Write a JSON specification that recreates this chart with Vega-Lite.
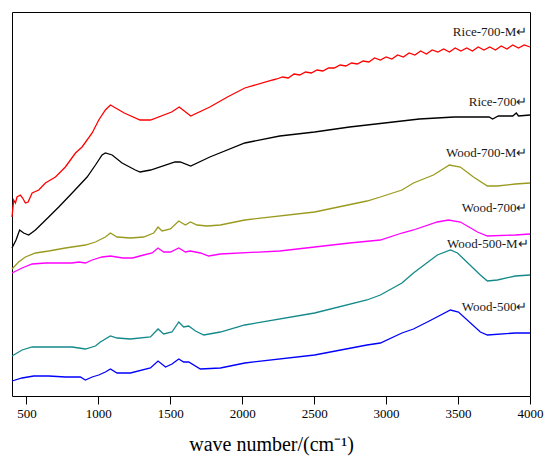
{
  "$schema": "https://vega.github.io/schema/vega-lite/v6.json",
  "width": 518,
  "height": 384,
  "autosize": {"type": "none"},
  "padding": {"left": 12, "top": 12, "right": 17, "bottom": 65},
  "background": "white",
  "config": {
    "view": {"stroke": "#000000", "strokeWidth": 1},
    "font": "Times New Roman, Liberation Serif, serif"
  },
  "datasets": {
    "spectra": [
      {"s": "Rice-700-M", "wn": 400, "v": 179}, {"s": "Rice-700-M", "wn": 412, "v": 196}, {"s": "Rice-700-M", "wn": 424, "v": 193}, {"s": "Rice-700-M", "wn": 435, "v": 199}, {"s": "Rice-700-M", "wn": 458, "v": 201}, {"s": "Rice-700-M", "wn": 474, "v": 198}, {"s": "Rice-700-M", "wn": 493, "v": 193}, {"s": "Rice-700-M", "wn": 512, "v": 194}, {"s": "Rice-700-M", "wn": 540, "v": 203}, {"s": "Rice-700-M", "wn": 586, "v": 206}, {"s": "Rice-700-M", "wn": 632, "v": 213}, {"s": "Rice-700-M", "wn": 702, "v": 219}, {"s": "Rice-700-M", "wn": 771, "v": 229}, {"s": "Rice-700-M", "wn": 841, "v": 243}, {"s": "Rice-700-M", "wn": 887, "v": 249}, {"s": "Rice-700-M", "wn": 957, "v": 263}, {"s": "Rice-700-M", "wn": 1003, "v": 276}, {"s": "Rice-700-M", "wn": 1049, "v": 286}, {"s": "Rice-700-M", "wn": 1084, "v": 291}, {"s": "Rice-700-M", "wn": 1180, "v": 283}, {"s": "Rice-700-M", "wn": 1290, "v": 276}, {"s": "Rice-700-M", "wn": 1363, "v": 276}, {"s": "Rice-700-M", "wn": 1509, "v": 284}, {"s": "Rice-700-M", "wn": 1562, "v": 289}, {"s": "Rice-700-M", "wn": 1642, "v": 280}, {"s": "Rice-700-M", "wn": 1775, "v": 289}, {"s": "Rice-700-M", "wn": 1897, "v": 299}, {"s": "Rice-700-M", "wn": 2018, "v": 308}, {"s": "Rice-700-M", "wn": 2212, "v": 316},
      {"s": "Rice-700-M", "wn": 2240, "v": 317}, {"s": "Rice-700-M", "wn": 2280, "v": 319}, {"s": "Rice-700-M", "wn": 2320, "v": 318}, {"s": "Rice-700-M", "wn": 2360, "v": 322}, {"s": "Rice-700-M", "wn": 2400, "v": 321}, {"s": "Rice-700-M", "wn": 2440, "v": 324}, {"s": "Rice-700-M", "wn": 2480, "v": 323}, {"s": "Rice-700-M", "wn": 2520, "v": 326}, {"s": "Rice-700-M", "wn": 2560, "v": 325}, {"s": "Rice-700-M", "wn": 2600, "v": 328}, {"s": "Rice-700-M", "wn": 2640, "v": 328}, {"s": "Rice-700-M", "wn": 2680, "v": 331}, {"s": "Rice-700-M", "wn": 2720, "v": 330}, {"s": "Rice-700-M", "wn": 2760, "v": 333}, {"s": "Rice-700-M", "wn": 2800, "v": 332}, {"s": "Rice-700-M", "wn": 2840, "v": 335}, {"s": "Rice-700-M", "wn": 2880, "v": 334}, {"s": "Rice-700-M", "wn": 2920, "v": 338}, {"s": "Rice-700-M", "wn": 2960, "v": 336}, {"s": "Rice-700-M", "wn": 3000, "v": 339}, {"s": "Rice-700-M", "wn": 3040, "v": 337}, {"s": "Rice-700-M", "wn": 3080, "v": 341}, {"s": "Rice-700-M", "wn": 3120, "v": 339}, {"s": "Rice-700-M", "wn": 3160, "v": 343}, {"s": "Rice-700-M", "wn": 3200, "v": 341}, {"s": "Rice-700-M", "wn": 3240, "v": 345}, {"s": "Rice-700-M", "wn": 3280, "v": 342}, {"s": "Rice-700-M", "wn": 3320, "v": 346}, {"s": "Rice-700-M", "wn": 3360, "v": 344}, {"s": "Rice-700-M", "wn": 3400, "v": 347}, {"s": "Rice-700-M", "wn": 3440, "v": 344}, {"s": "Rice-700-M", "wn": 3480, "v": 348}, {"s": "Rice-700-M", "wn": 3520, "v": 345}, {"s": "Rice-700-M", "wn": 3560, "v": 348}, {"s": "Rice-700-M", "wn": 3600, "v": 345}, {"s": "Rice-700-M", "wn": 3640, "v": 349}, {"s": "Rice-700-M", "wn": 3680, "v": 346}, {"s": "Rice-700-M", "wn": 3720, "v": 349}, {"s": "Rice-700-M", "wn": 3760, "v": 346}, {"s": "Rice-700-M", "wn": 3800, "v": 350}, {"s": "Rice-700-M", "wn": 3840, "v": 347}, {"s": "Rice-700-M", "wn": 3880, "v": 351}, {"s": "Rice-700-M", "wn": 3920, "v": 348}, {"s": "Rice-700-M", "wn": 3960, "v": 351}, {"s": "Rice-700-M", "wn": 4000, "v": 349},

      {"s": "Rice-700", "wn": 400, "v": 148}, {"s": "Rice-700", "wn": 428, "v": 156}, {"s": "Rice-700", "wn": 453, "v": 166}, {"s": "Rice-700", "wn": 481, "v": 163}, {"s": "Rice-700", "wn": 516, "v": 161}, {"s": "Rice-700", "wn": 563, "v": 166}, {"s": "Rice-700", "wn": 655, "v": 179}, {"s": "Rice-700", "wn": 725, "v": 189}, {"s": "Rice-700", "wn": 818, "v": 203}, {"s": "Rice-700", "wn": 922, "v": 219}, {"s": "Rice-700", "wn": 980, "v": 231}, {"s": "Rice-700", "wn": 1026, "v": 241}, {"s": "Rice-700", "wn": 1049, "v": 243}, {"s": "Rice-700", "wn": 1096, "v": 241}, {"s": "Rice-700", "wn": 1165, "v": 233}, {"s": "Rice-700", "wn": 1257, "v": 226}, {"s": "Rice-700", "wn": 1290, "v": 224}, {"s": "Rice-700", "wn": 1363, "v": 226}, {"s": "Rice-700", "wn": 1533, "v": 234}, {"s": "Rice-700", "wn": 1569, "v": 234}, {"s": "Rice-700", "wn": 1642, "v": 230}, {"s": "Rice-700", "wn": 1775, "v": 239}, {"s": "Rice-700", "wn": 2018, "v": 253}, {"s": "Rice-700", "wn": 2261, "v": 260}, {"s": "Rice-700", "wn": 2503, "v": 264}, {"s": "Rice-700", "wn": 2746, "v": 269}, {"s": "Rice-700", "wn": 2989, "v": 273}, {"s": "Rice-700", "wn": 3231, "v": 277}, {"s": "Rice-700", "wn": 3474, "v": 279}, {"s": "Rice-700", "wn": 3716, "v": 279}, {"s": "Rice-700", "wn": 3740, "v": 277}, {"s": "Rice-700", "wn": 3780, "v": 280}, {"s": "Rice-700", "wn": 3880, "v": 280}, {"s": "Rice-700", "wn": 3905, "v": 283}, {"s": "Rice-700", "wn": 3920, "v": 280}, {"s": "Rice-700", "wn": 4000, "v": 281},

      {"s": "Wood-700-M", "wn": 400, "v": 127}, {"s": "Wood-700-M", "wn": 446, "v": 134}, {"s": "Wood-700-M", "wn": 493, "v": 139}, {"s": "Wood-700-M", "wn": 563, "v": 143}, {"s": "Wood-700-M", "wn": 655, "v": 145}, {"s": "Wood-700-M", "wn": 771, "v": 148}, {"s": "Wood-700-M", "wn": 910, "v": 151}, {"s": "Wood-700-M", "wn": 980, "v": 154}, {"s": "Wood-700-M", "wn": 1049, "v": 159}, {"s": "Wood-700-M", "wn": 1084, "v": 163}, {"s": "Wood-700-M", "wn": 1130, "v": 159}, {"s": "Wood-700-M", "wn": 1223, "v": 158}, {"s": "Wood-700-M", "wn": 1315, "v": 159}, {"s": "Wood-700-M", "wn": 1385, "v": 163}, {"s": "Wood-700-M", "wn": 1415, "v": 169}, {"s": "Wood-700-M", "wn": 1443, "v": 165}, {"s": "Wood-700-M", "wn": 1501, "v": 167}, {"s": "Wood-700-M", "wn": 1559, "v": 175}, {"s": "Wood-700-M", "wn": 1605, "v": 171}, {"s": "Wood-700-M", "wn": 1640, "v": 174}, {"s": "Wood-700-M", "wn": 1686, "v": 171}, {"s": "Wood-700-M", "wn": 1756, "v": 170}, {"s": "Wood-700-M", "wn": 1848, "v": 171}, {"s": "Wood-700-M", "wn": 2018, "v": 176}, {"s": "Wood-700-M", "wn": 2503, "v": 184}, {"s": "Wood-700-M", "wn": 2867, "v": 195}, {"s": "Wood-700-M", "wn": 2960, "v": 199}, {"s": "Wood-700-M", "wn": 3110, "v": 206}, {"s": "Wood-700-M", "wn": 3190, "v": 213}, {"s": "Wood-700-M", "wn": 3329, "v": 221}, {"s": "Wood-700-M", "wn": 3440, "v": 231}, {"s": "Wood-700-M", "wn": 3516, "v": 229}, {"s": "Wood-700-M", "wn": 3607, "v": 219}, {"s": "Wood-700-M", "wn": 3704, "v": 210}, {"s": "Wood-700-M", "wn": 3773, "v": 210}, {"s": "Wood-700-M", "wn": 3898, "v": 212}, {"s": "Wood-700-M", "wn": 4000, "v": 213},

      {"s": "Wood-700", "wn": 400, "v": 123}, {"s": "Wood-700", "wn": 470, "v": 128}, {"s": "Wood-700", "wn": 540, "v": 132}, {"s": "Wood-700", "wn": 632, "v": 133}, {"s": "Wood-700", "wn": 818, "v": 133}, {"s": "Wood-700", "wn": 864, "v": 134}, {"s": "Wood-700", "wn": 910, "v": 133}, {"s": "Wood-700", "wn": 957, "v": 136}, {"s": "Wood-700", "wn": 1026, "v": 139}, {"s": "Wood-700", "wn": 1084, "v": 140}, {"s": "Wood-700", "wn": 1169, "v": 138}, {"s": "Wood-700", "wn": 1238, "v": 138}, {"s": "Wood-700", "wn": 1315, "v": 141}, {"s": "Wood-700", "wn": 1374, "v": 143}, {"s": "Wood-700", "wn": 1415, "v": 148}, {"s": "Wood-700", "wn": 1454, "v": 144}, {"s": "Wood-700", "wn": 1501, "v": 144}, {"s": "Wood-700", "wn": 1559, "v": 148}, {"s": "Wood-700", "wn": 1605, "v": 144}, {"s": "Wood-700", "wn": 1640, "v": 145}, {"s": "Wood-700", "wn": 1709, "v": 143}, {"s": "Wood-700", "wn": 1767, "v": 140}, {"s": "Wood-700", "wn": 1848, "v": 142}, {"s": "Wood-700", "wn": 2261, "v": 145}, {"s": "Wood-700", "wn": 2746, "v": 153}, {"s": "Wood-700", "wn": 2960, "v": 156}, {"s": "Wood-700", "wn": 3110, "v": 163}, {"s": "Wood-700", "wn": 3190, "v": 166}, {"s": "Wood-700", "wn": 3356, "v": 174}, {"s": "Wood-700", "wn": 3433, "v": 176}, {"s": "Wood-700", "wn": 3516, "v": 174}, {"s": "Wood-700", "wn": 3635, "v": 164}, {"s": "Wood-700", "wn": 3704, "v": 160}, {"s": "Wood-700", "wn": 3898, "v": 161}, {"s": "Wood-700", "wn": 4000, "v": 162},

      {"s": "Wood-500-M", "wn": 400, "v": 40}, {"s": "Wood-500-M", "wn": 470, "v": 46}, {"s": "Wood-500-M", "wn": 540, "v": 49}, {"s": "Wood-500-M", "wn": 655, "v": 49}, {"s": "Wood-500-M", "wn": 818, "v": 49}, {"s": "Wood-500-M", "wn": 910, "v": 47}, {"s": "Wood-500-M", "wn": 980, "v": 50}, {"s": "Wood-500-M", "wn": 1014, "v": 54}, {"s": "Wood-500-M", "wn": 1084, "v": 60}, {"s": "Wood-500-M", "wn": 1130, "v": 58}, {"s": "Wood-500-M", "wn": 1223, "v": 57}, {"s": "Wood-500-M", "wn": 1362, "v": 59}, {"s": "Wood-500-M", "wn": 1415, "v": 67}, {"s": "Wood-500-M", "wn": 1454, "v": 62}, {"s": "Wood-500-M", "wn": 1512, "v": 64}, {"s": "Wood-500-M", "wn": 1559, "v": 74}, {"s": "Wood-500-M", "wn": 1593, "v": 69}, {"s": "Wood-500-M", "wn": 1628, "v": 70}, {"s": "Wood-500-M", "wn": 1675, "v": 65}, {"s": "Wood-500-M", "wn": 1733, "v": 61}, {"s": "Wood-500-M", "wn": 1848, "v": 64}, {"s": "Wood-500-M", "wn": 2018, "v": 71}, {"s": "Wood-500-M", "wn": 2503, "v": 83}, {"s": "Wood-500-M", "wn": 2867, "v": 96}, {"s": "Wood-500-M", "wn": 2960, "v": 101}, {"s": "Wood-500-M", "wn": 3110, "v": 113}, {"s": "Wood-500-M", "wn": 3190, "v": 123}, {"s": "Wood-500-M", "wn": 3356, "v": 141}, {"s": "Wood-500-M", "wn": 3447, "v": 146}, {"s": "Wood-500-M", "wn": 3496, "v": 143}, {"s": "Wood-500-M", "wn": 3655, "v": 121}, {"s": "Wood-500-M", "wn": 3704, "v": 115}, {"s": "Wood-500-M", "wn": 3773, "v": 116}, {"s": "Wood-500-M", "wn": 3898, "v": 120}, {"s": "Wood-500-M", "wn": 4000, "v": 121},

      {"s": "Wood-500", "wn": 400, "v": 15}, {"s": "Wood-500", "wn": 470, "v": 18}, {"s": "Wood-500", "wn": 551, "v": 20}, {"s": "Wood-500", "wn": 655, "v": 20}, {"s": "Wood-500", "wn": 771, "v": 19}, {"s": "Wood-500", "wn": 875, "v": 19}, {"s": "Wood-500", "wn": 910, "v": 16}, {"s": "Wood-500", "wn": 957, "v": 19}, {"s": "Wood-500", "wn": 1003, "v": 21}, {"s": "Wood-500", "wn": 1049, "v": 24}, {"s": "Wood-500", "wn": 1084, "v": 27}, {"s": "Wood-500", "wn": 1130, "v": 23}, {"s": "Wood-500", "wn": 1223, "v": 23}, {"s": "Wood-500", "wn": 1362, "v": 28}, {"s": "Wood-500", "wn": 1415, "v": 35}, {"s": "Wood-500", "wn": 1467, "v": 29}, {"s": "Wood-500", "wn": 1512, "v": 32}, {"s": "Wood-500", "wn": 1559, "v": 37}, {"s": "Wood-500", "wn": 1593, "v": 34}, {"s": "Wood-500", "wn": 1628, "v": 34}, {"s": "Wood-500", "wn": 1709, "v": 27}, {"s": "Wood-500", "wn": 1848, "v": 28}, {"s": "Wood-500", "wn": 2018, "v": 33}, {"s": "Wood-500", "wn": 2503, "v": 41}, {"s": "Wood-500", "wn": 2867, "v": 51}, {"s": "Wood-500", "wn": 2960, "v": 53}, {"s": "Wood-500", "wn": 3110, "v": 63}, {"s": "Wood-500", "wn": 3190, "v": 67}, {"s": "Wood-500", "wn": 3300, "v": 75}, {"s": "Wood-500", "wn": 3447, "v": 86}, {"s": "Wood-500", "wn": 3503, "v": 84}, {"s": "Wood-500", "wn": 3655, "v": 64}, {"s": "Wood-500", "wn": 3704, "v": 61}, {"s": "Wood-500", "wn": 3898, "v": 63}, {"s": "Wood-500", "wn": 4000, "v": 63}
    ],
    "labels": [
      {"t": "Rice-700-M↵", "wn": 3982, "v": 364},
      {"t": "Rice-700↵", "wn": 3982, "v": 294},
      {"t": "Wood-700-M↵", "wn": 3982, "v": 243},
      {"t": "Wood-700↵", "wn": 3982, "v": 188},
      {"t": "Wood-500-M↵", "wn": 3990, "v": 152},
      {"t": "Wood-500↵", "wn": 3982, "v": 89}
    ]
  },
  "layer": [
    {
      "data": {"name": "spectra"},
      "mark": {"type": "line", "strokeWidth": 1.3, "interpolate": "linear"},
      "encoding": {
        "x": {
          "field": "wn", "type": "quantitative",
          "scale": {"domain": [400, 4000], "nice": false, "zero": false},
          "axis": {
            "title": "wave number/(cm⁻¹)",
            "titleFont": "Times New Roman, Liberation Serif, serif",
            "titleFontSize": 20,
            "titleFontWeight": "normal",
            "titleColor": "#000000",
            "titlePadding": 14,
            "values": [500, 750, 1000, 1250, 1500, 1750, 2000, 2250, 2500, 2750, 3000, 3250, 3500, 3750, 4000],
            "format": "d",
            "labelExpr": "datum.value % 500 === 0 ? datum.label : ''",
            "labelFont": "Times New Roman, Liberation Serif, serif",
            "labelFontSize": 13,
            "labelColor": "#000000",
            "labelPadding": 3,
            "labelFlush": false,
            "labelOverlap": false,
            "tickColor": "#000000",
            "tickWidth": 1,
            "tickSize": {"condition": {"test": "datum.value % 500 !== 0", "value": 5}, "value": 8},
            "domain": false,
            "grid": false
          }
        },
        "y": {
          "field": "v", "type": "quantitative",
          "scale": {"domain": [0, 384], "nice": false, "zero": false},
          "axis": null
        },
        "color": {
          "field": "s", "type": "nominal",
          "scale": {
            "domain": ["Rice-700-M", "Rice-700", "Wood-700-M", "Wood-700", "Wood-500-M", "Wood-500"],
            "range": ["#ff0000", "#000000", "#9a9a1e", "#ff00ff", "#13898a", "#0000ff"]
          },
          "legend": null
        },
        "order": {"field": "wn", "type": "quantitative"}
      }
    },
    {
      "data": {"name": "labels"},
      "mark": {"type": "text", "align": "right", "baseline": "middle", "font": "Times New Roman, Liberation Serif, serif", "fontSize": 13, "color": "#1a1a1a"},
      "encoding": {
        "x": {"field": "wn", "type": "quantitative"},
        "y": {"field": "v", "type": "quantitative"},
        "text": {"field": "t"}
      }
    }
  ]
}
